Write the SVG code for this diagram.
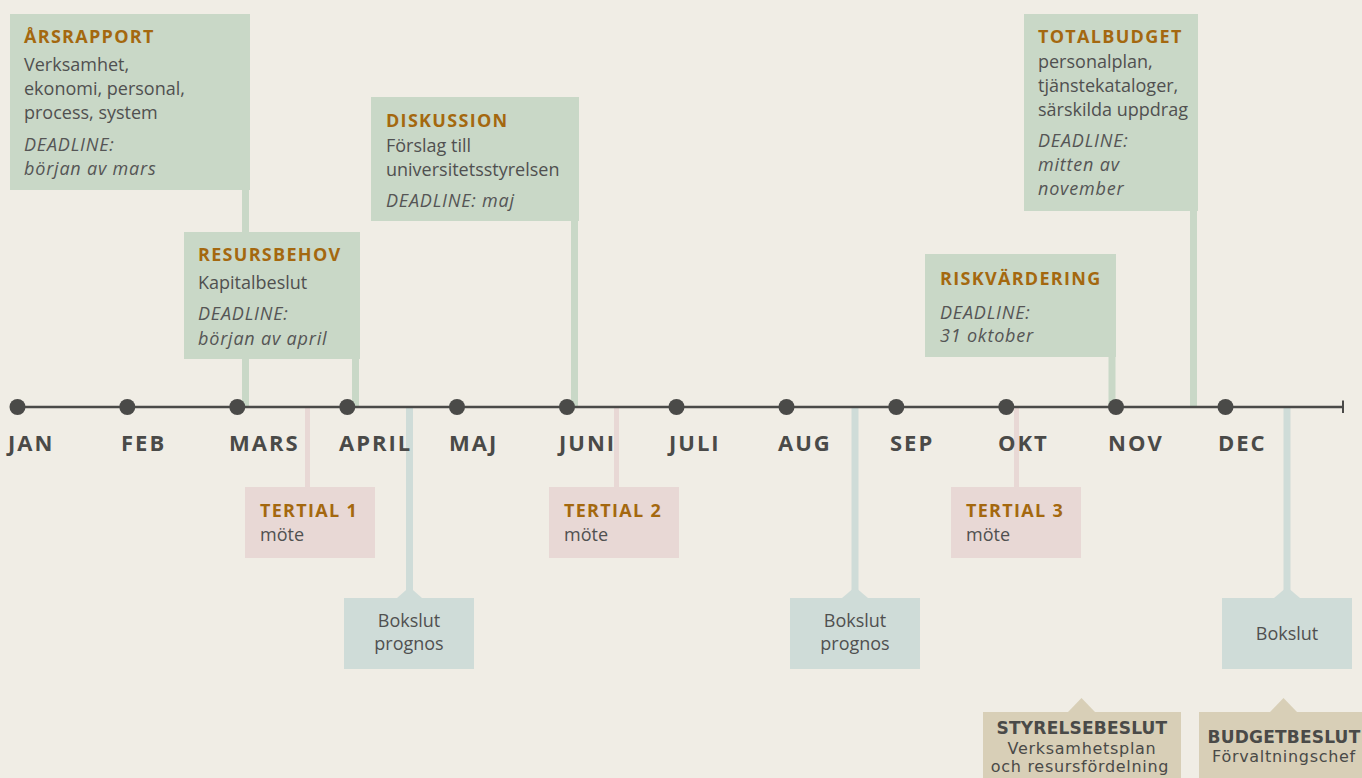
<svg xmlns="http://www.w3.org/2000/svg" width="1362" height="778" viewBox="0 0 1362 778">
<style>
.bg{fill:#f0ede5}
.g{fill:#c9d8c7}
.p{fill:#e8d8d5}
.b{fill:#cfdcd8}
.y{fill:#d8cfb7}
.gl{stroke:#c9d8c7;stroke-width:7;fill:none}
.pl{stroke:#e8d8d5;stroke-width:5;fill:none}
.bl{stroke:#cfdcd8;stroke-width:7;fill:none}
.t{font-family:"Open Sans",sans-serif;font-weight:bold;font-size:18px;letter-spacing:1.3px;fill:#a4680f}
.x{font-family:"Open Sans",sans-serif;font-size:18px;fill:#505050}
.i{font-family:"Open Sans",sans-serif;font-size:18px;font-style:italic;letter-spacing:0.8px;fill:#555}
.c{font-family:"Open Sans",sans-serif;font-size:18px;fill:#505050;text-anchor:middle}
.m{font-family:"Open Sans",sans-serif;font-weight:bold;font-size:22px;letter-spacing:2px;fill:#4a4a48}
.bt{font-family:"DejaVu Sans",sans-serif;font-weight:bold;font-size:17px;letter-spacing:0.2px;fill:#4a4a48;text-anchor:middle}
.bx{font-family:"DejaVu Sans",sans-serif;font-size:16px;letter-spacing:0.7px;fill:#4a4a48;text-anchor:middle}
.dot{fill:#4a4a48}
</style>
<rect class="bg" x="0" y="0" width="1362" height="778"/>
<g id="connectors">
<line class="gl" x1="245.5" y1="190" x2="245.5" y2="407"/>
<line class="gl" x1="355.5" y1="359" x2="355.5" y2="407"/>
<line class="gl" x1="574.5" y1="221" x2="574.5" y2="407"/>
<line class="gl" x1="1112" y1="357" x2="1112" y2="407"/>
<line class="gl" x1="1193.5" y1="211" x2="1193.5" y2="407"/>
<line class="pl" x1="307.5" y1="407" x2="307.5" y2="487"/>
<line class="pl" x1="616.5" y1="407" x2="616.5" y2="487"/>
<line class="pl" x1="1016.5" y1="407" x2="1016.5" y2="487"/>
<line class="bl" x1="409.5" y1="407" x2="409.5" y2="598"/>
<line class="bl" x1="855" y1="407" x2="855" y2="598"/>
<line class="bl" x1="1287" y1="407" x2="1287" y2="598"/>
</g>
<g id="arsrapport">
<rect class="g" x="10" y="14" width="240" height="176"/>
<text class="t" x="24" y="43">ÅRSRAPPORT</text>
<text class="x" x="24" y="71">Verksamhet,</text>
<text class="x" x="24" y="95">ekonomi, personal,</text>
<text class="x" x="24" y="119">process, system</text>
<text class="i" x="24" y="151">DEADLINE:</text>
<text class="i" x="24" y="175">början av mars</text>
</g>
<g id="resursbehov">
<rect class="g" x="184" y="232" width="176" height="127"/>
<text class="t" x="198" y="261">RESURSBEHOV</text>
<text class="x" x="198" y="289">Kapitalbeslut</text>
<text class="i" x="198" y="320">DEADLINE:</text>
<text class="i" x="198" y="345">början av april</text>
</g>
<g id="diskussion">
<rect class="g" x="371" y="97" width="208" height="124"/>
<text class="t" x="386" y="127">DISKUSSION</text>
<text class="x" x="386" y="152">Förslag till</text>
<text class="x" x="386" y="176">universitetsstyrelsen</text>
<text class="i" x="386" y="207">DEADLINE: maj</text>
</g>
<g id="riskvardering">
<rect class="g" x="925" y="254" width="191" height="103"/>
<text class="t" x="940" y="285">RISKVÄRDERING</text>
<text class="i" x="940" y="319">DEADLINE:</text>
<text class="i" x="940" y="342">31 oktober</text>
</g>
<g id="totalbudget">
<rect class="g" x="1024" y="14" width="174" height="197"/>
<text class="t" x="1038" y="43">TOTALBUDGET</text>
<text class="x" x="1038" y="68">personalplan,</text>
<text class="x" x="1038" y="92">tjänstekataloger,</text>
<text class="x" x="1038" y="116">särskilda uppdrag</text>
<text class="i" x="1038" y="147">DEADLINE:</text>
<text class="i" x="1038" y="171">mitten av</text>
<text class="i" x="1038" y="195">november</text>
</g>
<g id="tertial1">
<rect class="p" x="245" y="487" width="130" height="71"/>
<text class="t" x="260" y="517">TERTIAL 1</text>
<text class="x" x="260" y="541">möte</text>
</g>
<g id="tertial2">
<rect class="p" x="549" y="487" width="130" height="71"/>
<text class="t" x="564" y="517">TERTIAL 2</text>
<text class="x" x="564" y="541">möte</text>
</g>
<g id="tertial3">
<rect class="p" x="951" y="487" width="130" height="71"/>
<text class="t" x="966" y="517">TERTIAL 3</text>
<text class="x" x="966" y="541">möte</text>
</g>
<g id="bokslut-prognos-1">
<polygon class="b" points="397,598 409.5,587 422,598"/>
<rect class="b" x="344" y="598" width="130" height="71"/>
<text class="c" x="409" y="627">Bokslut</text>
<text class="c" x="409" y="650">prognos</text>
</g>
<g id="bokslut-prognos-2">
<polygon class="b" points="842,598 855,587 868,598"/>
<rect class="b" x="790" y="598" width="130" height="71"/>
<text class="c" x="855" y="627">Bokslut</text>
<text class="c" x="855" y="650">prognos</text>
</g>
<g id="bokslut">
<polygon class="b" points="1274,598 1287,587 1300,598"/>
<rect class="b" x="1222" y="598" width="130" height="71"/>
<text class="c" x="1287" y="640">Bokslut</text>
</g>
<g id="styrelsebeslut">
<polygon class="y" points="1068,712 1081.5,698 1095,712"/>
<rect class="y" x="983" y="712" width="198" height="70"/>
<text class="bt" x="1082" y="734">STYRELSEBESLUT</text>
<text class="bx" x="1082" y="754">Verksamhetsplan</text>
<text class="bx" x="1080" y="772">och resursfördelning</text>
</g>
<g id="budgetbeslut">
<polygon class="y" points="1270,712 1283.5,698 1297,712"/>
<rect class="y" x="1199" y="712" width="170" height="70"/>
<text class="bt" x="1284" y="743">BUDGETBESLUT</text>
<text class="bx" x="1284" y="762">Förvaltningschef</text>
</g>
<g id="timeline">
<line x1="18" y1="407" x2="1343" y2="407" stroke="#4a4a48" stroke-width="2.5"/>
<line x1="1343" y1="400.5" x2="1343" y2="413" stroke="#4a4a48" stroke-width="2"/>
<circle class="dot" cx="17.5" cy="407" r="8"/>
<circle class="dot" cx="127.3" cy="407" r="8"/>
<circle class="dot" cx="237.3" cy="407" r="8"/>
<circle class="dot" cx="347.3" cy="407" r="8"/>
<circle class="dot" cx="457" cy="407" r="8"/>
<circle class="dot" cx="567" cy="407" r="8"/>
<circle class="dot" cx="676.5" cy="407" r="8"/>
<circle class="dot" cx="786.5" cy="407" r="8"/>
<circle class="dot" cx="896.3" cy="407" r="8"/>
<circle class="dot" cx="1006.3" cy="407" r="8"/>
<circle class="dot" cx="1116" cy="407" r="8"/>
<circle class="dot" cx="1225.5" cy="407" r="8"/>
<text class="m" x="8" y="451">JAN</text>
<text class="m" x="121" y="451">FEB</text>
<text class="m" x="229" y="451">MARS</text>
<text class="m" x="339" y="451">APRIL</text>
<text class="m" x="449" y="451">MAJ</text>
<text class="m" x="559" y="451">JUNI</text>
<text class="m" x="669" y="451">JULI</text>
<text class="m" x="778" y="451">AUG</text>
<text class="m" x="890" y="451">SEP</text>
<text class="m" x="998" y="451">OKT</text>
<text class="m" x="1108" y="451">NOV</text>
<text class="m" x="1218" y="451">DEC</text>
</g>
</svg>
